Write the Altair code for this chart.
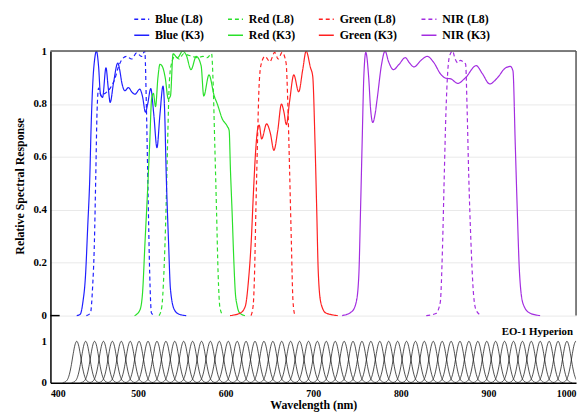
import altair as alt
import pandas as pd

FONT = "Liberation Serif"

# ---- Landsat-8 (L8, dashed) and K3 (solid) relative spectral responses ----
blue_l8_wl = [441, 445.7, 448, 450.2, 451.7, 453.2, 455, 458, 462, 466, 470, 473, 477.6, 482, 487, 492.7, 498.3, 504, 507.7, 509.6, 511.4, 513.3, 515.3, 519]
blue_l8_val = [0, 0.01, 0.1, 0.28, 0.52, 0.77, 0.86, 0.83, 0.84, 0.85, 0.87, 0.89, 0.94, 0.97, 0.98, 0.97, 0.993, 0.98, 1.0, 0.78, 0.47, 0.16, 0.01, 0]

blue_k3_wl = [430, 434, 437, 440, 442.6, 444.9, 446.4, 448.7, 450.5, 452.5, 455, 457, 459.5, 463.4, 466, 468.2, 472, 476.9, 479, 481.5, 485, 489, 493, 496.5, 502, 505, 508.5, 511, 514.5, 518, 521.6, 525, 528.5, 530.3, 532.2, 534.8, 537, 541.5, 547, 555]
blue_k3_val = [0, 0.005, 0.05, 0.15, 0.34, 0.52, 0.71, 0.9, 0.97, 1.0, 0.94, 0.84, 0.825, 0.937, 0.86, 0.806, 0.88, 0.955, 0.93, 0.88, 0.85, 0.862, 0.845, 0.837, 0.856, 0.83, 0.769, 0.8, 0.858, 0.76, 0.635, 0.76, 0.868, 0.78, 0.53, 0.28, 0.1, 0.022, 0.005, 0]

red_l8_wl = [524, 527, 529.5, 532, 533.8, 535.7, 538, 542, 547, 552, 557, 562, 568, 574, 579, 584, 585.5, 587.5, 589.5, 591.4, 593.5, 597]
red_l8_val = [0, 0.03, 0.16, 0.41, 0.66, 0.88, 0.95, 0.98, 0.97, 0.99, 0.985, 0.98, 0.975, 0.98, 0.975, 0.99, 0.9, 0.66, 0.41, 0.16, 0.03, 0]

red_k3_wl = [496, 502, 505, 508, 510.7, 513.3, 515.5, 517.5, 520, 522.7, 525, 528, 531, 534.5, 537, 540, 545, 551, 555, 560.5, 566.5, 572, 575, 581, 587, 590.5, 596, 602, 604, 605.5, 607.5, 609.2, 611, 613, 616, 622]
red_k3_val = [0, 0.02, 0.08, 0.28, 0.46, 0.65, 0.82, 0.84, 0.79, 0.9, 0.95, 0.94, 0.9, 0.82, 0.83, 0.99, 0.975, 1.0, 0.985, 0.93, 0.98, 0.945, 0.83, 0.91, 0.83, 0.8, 0.745, 0.715, 0.7, 0.55, 0.38, 0.22, 0.09, 0.04, 0.01, 0]

green_l8_wl = [629, 631.5, 633, 634.6, 636.3, 638.2, 640.5, 645, 650.5, 656, 660, 664.5, 669, 671, 673, 675, 676.8, 679]
green_l8_val = [0, 0.04, 0.16, 0.41, 0.65, 0.87, 0.95, 0.98, 0.96, 0.995, 0.97, 0.995, 0.955, 0.8, 0.55, 0.28, 0.06, 0]

green_k3_wl = [605, 616.8, 622.4, 626.1, 629.2, 631.8, 634.4, 636.6, 638.3, 641.1, 646.8, 651, 655.1, 659.5, 663.7, 666.5, 669.3, 673, 677.8, 683.4, 688, 691.9, 696.8, 699.4, 702, 703.9, 705.8, 708.8, 714.4, 728]
green_k3_val = [0, 0.01, 0.035, 0.134, 0.28, 0.47, 0.63, 0.706, 0.72, 0.668, 0.725, 0.69, 0.625, 0.7, 0.8, 0.77, 0.722, 0.81, 0.91, 0.846, 0.93, 1.0, 0.938, 0.905, 0.657, 0.41, 0.16, 0.047, 0.01, 0]

nir_l8_wl = [829, 840, 845, 847.5, 849.5, 851.5, 853.5, 855.5, 859, 862, 865, 868, 871, 874, 875.5, 877.5, 880, 883, 886, 892]
nir_l8_val = [0, 0.008, 0.05, 0.25, 0.52, 0.77, 0.92, 0.98, 1.0, 0.97, 0.955, 0.965, 0.96, 0.95, 0.8, 0.53, 0.28, 0.08, 0.02, 0]

nir_k3_wl = [733, 744, 749, 752, 754, 755.8, 757.7, 760, 763.3, 765.5, 768, 770.5, 773, 778, 782, 786, 791.5, 798, 805, 810, 815, 823, 830, 838, 845, 851, 857, 865, 874, 886, 893, 901.5, 910, 919, 925, 928, 930.6, 932.8, 935.5, 939.5, 947, 959]
nir_k3_val = [0, 0.015, 0.05, 0.15, 0.4, 0.65, 0.9, 0.995, 0.9, 0.78, 0.73, 0.76, 0.82, 0.95, 1.0, 0.96, 0.93, 0.95, 0.975, 0.955, 0.94, 0.965, 0.98, 0.955, 0.915, 0.898, 0.895, 0.878, 0.9, 0.945, 0.915, 0.876, 0.898, 0.935, 0.942, 0.925, 0.65, 0.41, 0.16, 0.045, 0.01, 0]

series_names = ["Blue (L8)", "Red (L8)", "Green (L8)", "NIR (L8)",
                "Blue (K3)", "Red (K3)", "Green (K3)", "NIR (K3)"]
series_colors = ["#1f1fff", "#2ae02a", "#ff2020", "#a32de0",
                 "#1f1fff", "#2ae02a", "#ff2020", "#a32de0"]
series_dashes = [[4, 3], [4, 3], [4, 3], [4, 3], [1, 0], [1, 0], [1, 0], [1, 0]]
series_data = [(blue_l8_wl, blue_l8_val), (red_l8_wl, red_l8_val),
               (green_l8_wl, green_l8_val), (nir_l8_wl, nir_l8_val),
               (blue_k3_wl, blue_k3_val), (red_k3_wl, red_k3_val),
               (green_k3_wl, green_k3_val), (nir_k3_wl, nir_k3_val)]

# ---- EO-1 Hyperion band centres and one band profile ----
hyperion_centers = [430.0, 440.2, 450.4, 460.5, 470.7, 480.9, 491.1, 501.2, 511.4, 521.6,
                    531.8, 541.9, 552.1, 562.3, 572.5, 582.6, 592.8, 603.0, 613.2, 623.3,
                    633.5, 643.7, 653.9, 664.0, 674.2, 684.4, 694.6, 704.7, 714.9, 725.1,
                    735.3, 745.4, 755.6, 765.8, 776.0, 786.1, 796.3, 806.5, 816.7, 826.8,
                    837.0, 847.2, 857.4, 867.5, 877.7, 887.9, 898.1, 908.2, 918.4, 928.6,
                    938.8, 948.9, 959.1, 969.3, 979.5, 989.6, 999.8]
profile_offset = [-16, -14, -12, -10, -8, -6, -4, -2, 0, 2, 4, 6, 8, 10, 12, 14, 16]
profile_value = [0.003, 0.012, 0.039, 0.10, 0.235, 0.443, 0.70, 0.913, 1.0,
                 0.913, 0.70, 0.443, 0.235, 0.10, 0.039, 0.012, 0.003]

rows = []
for name, (wls, vals) in zip(series_names, series_data):
    for w, v in zip(wls, vals):
        rows.append({"series": name, "wl": w, "val": v})
srf = pd.DataFrame(rows)

hrows = []
for i, c in enumerate(hyperion_centers):
    for o, v in zip(profile_offset, profile_value):
        hrows.append({"band": i, "wl": c + o, "val": v})
hyp = pd.DataFrame(hrows)

xscale = alt.Scale(domain=[400, 1000], nice=False, zero=False)
one = alt.Data(values=[{}])

legend = alt.Legend(orient="none", legendX=84, legendY=-41, columns=4, direction="horizontal",
                    title=None, symbolType="stroke", symbolSize=230, symbolStrokeWidth=1.5,
                    labelFont=FONT, labelFontSize=12, labelFontWeight="bold", labelColor="black",
                    columnPadding=20, rowPadding=1.5, labelOffset=5)

lines = alt.Chart(srf).mark_line(strokeWidth=1.2, interpolate="monotone", clip=True).encode(
    x=alt.X("wl:Q", scale=xscale, axis=None),
    y=alt.Y("val:Q", scale=alt.Scale(domain=[-0.0187, 1], nice=False, zero=False),
            axis=alt.Axis(values=[0, 0.1, 0.2, 0.3, 0.4, 0.5, 0.6, 0.7, 0.8, 0.9, 1.0],
                          format="~g",
                          labelExpr="(round(datum.value*10) % 2 == 0) ? datum.label : ''",
                          title="Relative Spectral Response", titleFont=FONT, titleFontSize=12,
                          titleFontWeight="bold", titleColor="black", titlePadding=7,
                          labelFont=FONT, labelFontSize=11, labelFontWeight="bold",
                          labelColor="black", labelPadding=4, ticks=False,
                          grid=True, gridColor="#e9e9e9", gridWidth=1,
                          domainColor="black", domainWidth=1.5)),
    color=alt.Color("series:N", scale=alt.Scale(domain=series_names, range=series_colors), legend=legend),
    strokeDash=alt.StrokeDash("series:N", scale=alt.Scale(domain=series_names, range=series_dashes), legend=legend),
)

top_rule = alt.Chart(one).mark_rule(color="#555555", strokeWidth=1.5).encode(y=alt.datum(1))
right_rule = alt.Chart(one).mark_rule(color="#555555", strokeWidth=1.5).encode(
    x=alt.datum(1000), y=alt.datum(0), y2=alt.datum(1))
zero_tick = alt.Chart(one).mark_rule(color="black", strokeWidth=1.5).encode(
    x=alt.datum(400), x2=alt.datum(410.5), y=alt.datum(0))

top = alt.layer(lines, top_rule, right_rule, zero_tick).properties(width=532.5, height=273)

hyp_lines = alt.Chart(hyp).mark_line(color="#222222", strokeWidth=0.8, interpolate="monotone", clip=True).encode(
    x=alt.X("wl:Q", scale=xscale,
            axis=alt.Axis(values=[400, 500, 600, 700, 800, 900, 1000], format="d", ticks=False, grid=False,
                          title="Wavelength (nm)", titleFont=FONT, titleFontSize=12,
                          titleFontWeight="bold", titleColor="black", titlePadding=1,
                          labelFont=FONT, labelFontSize=10, labelFontWeight="bold",
                          labelColor="black", labelPadding=6,
                          domainColor="black", domainWidth=1.5)),
    y=alt.Y("val:Q", scale=alt.Scale(domain=[0, 1.5], nice=False),
            axis=alt.Axis(values=[0, 1], title=None, ticks=False, grid=False,
                          labelFont=FONT, labelFontSize=11, labelFontWeight="bold",
                          labelColor="black", labelPadding=4,
                          domainColor="black", domainWidth=1.5)),
    detail="band:N",
)
hyp_label = alt.Chart(one).mark_text(align="right", baseline="middle", font=FONT, fontSize=11,
                                     fontWeight="bold", color="black", dx=-3).encode(
    x=alt.datum(1000), y=alt.datum(1.23), text=alt.value("EO-1 Hyperion"))

bottom = alt.layer(hyp_lines, hyp_label).properties(width=532.5, height=63)

chart = alt.vconcat(top, bottom, spacing=0).resolve_scale(x="independent").properties(
    padding={"left": 5, "top": 0, "right": 2, "bottom": 0}
).configure_view(stroke=None)

chart.save("out.html", embed_options={"renderer": "svg", "actions": False})
